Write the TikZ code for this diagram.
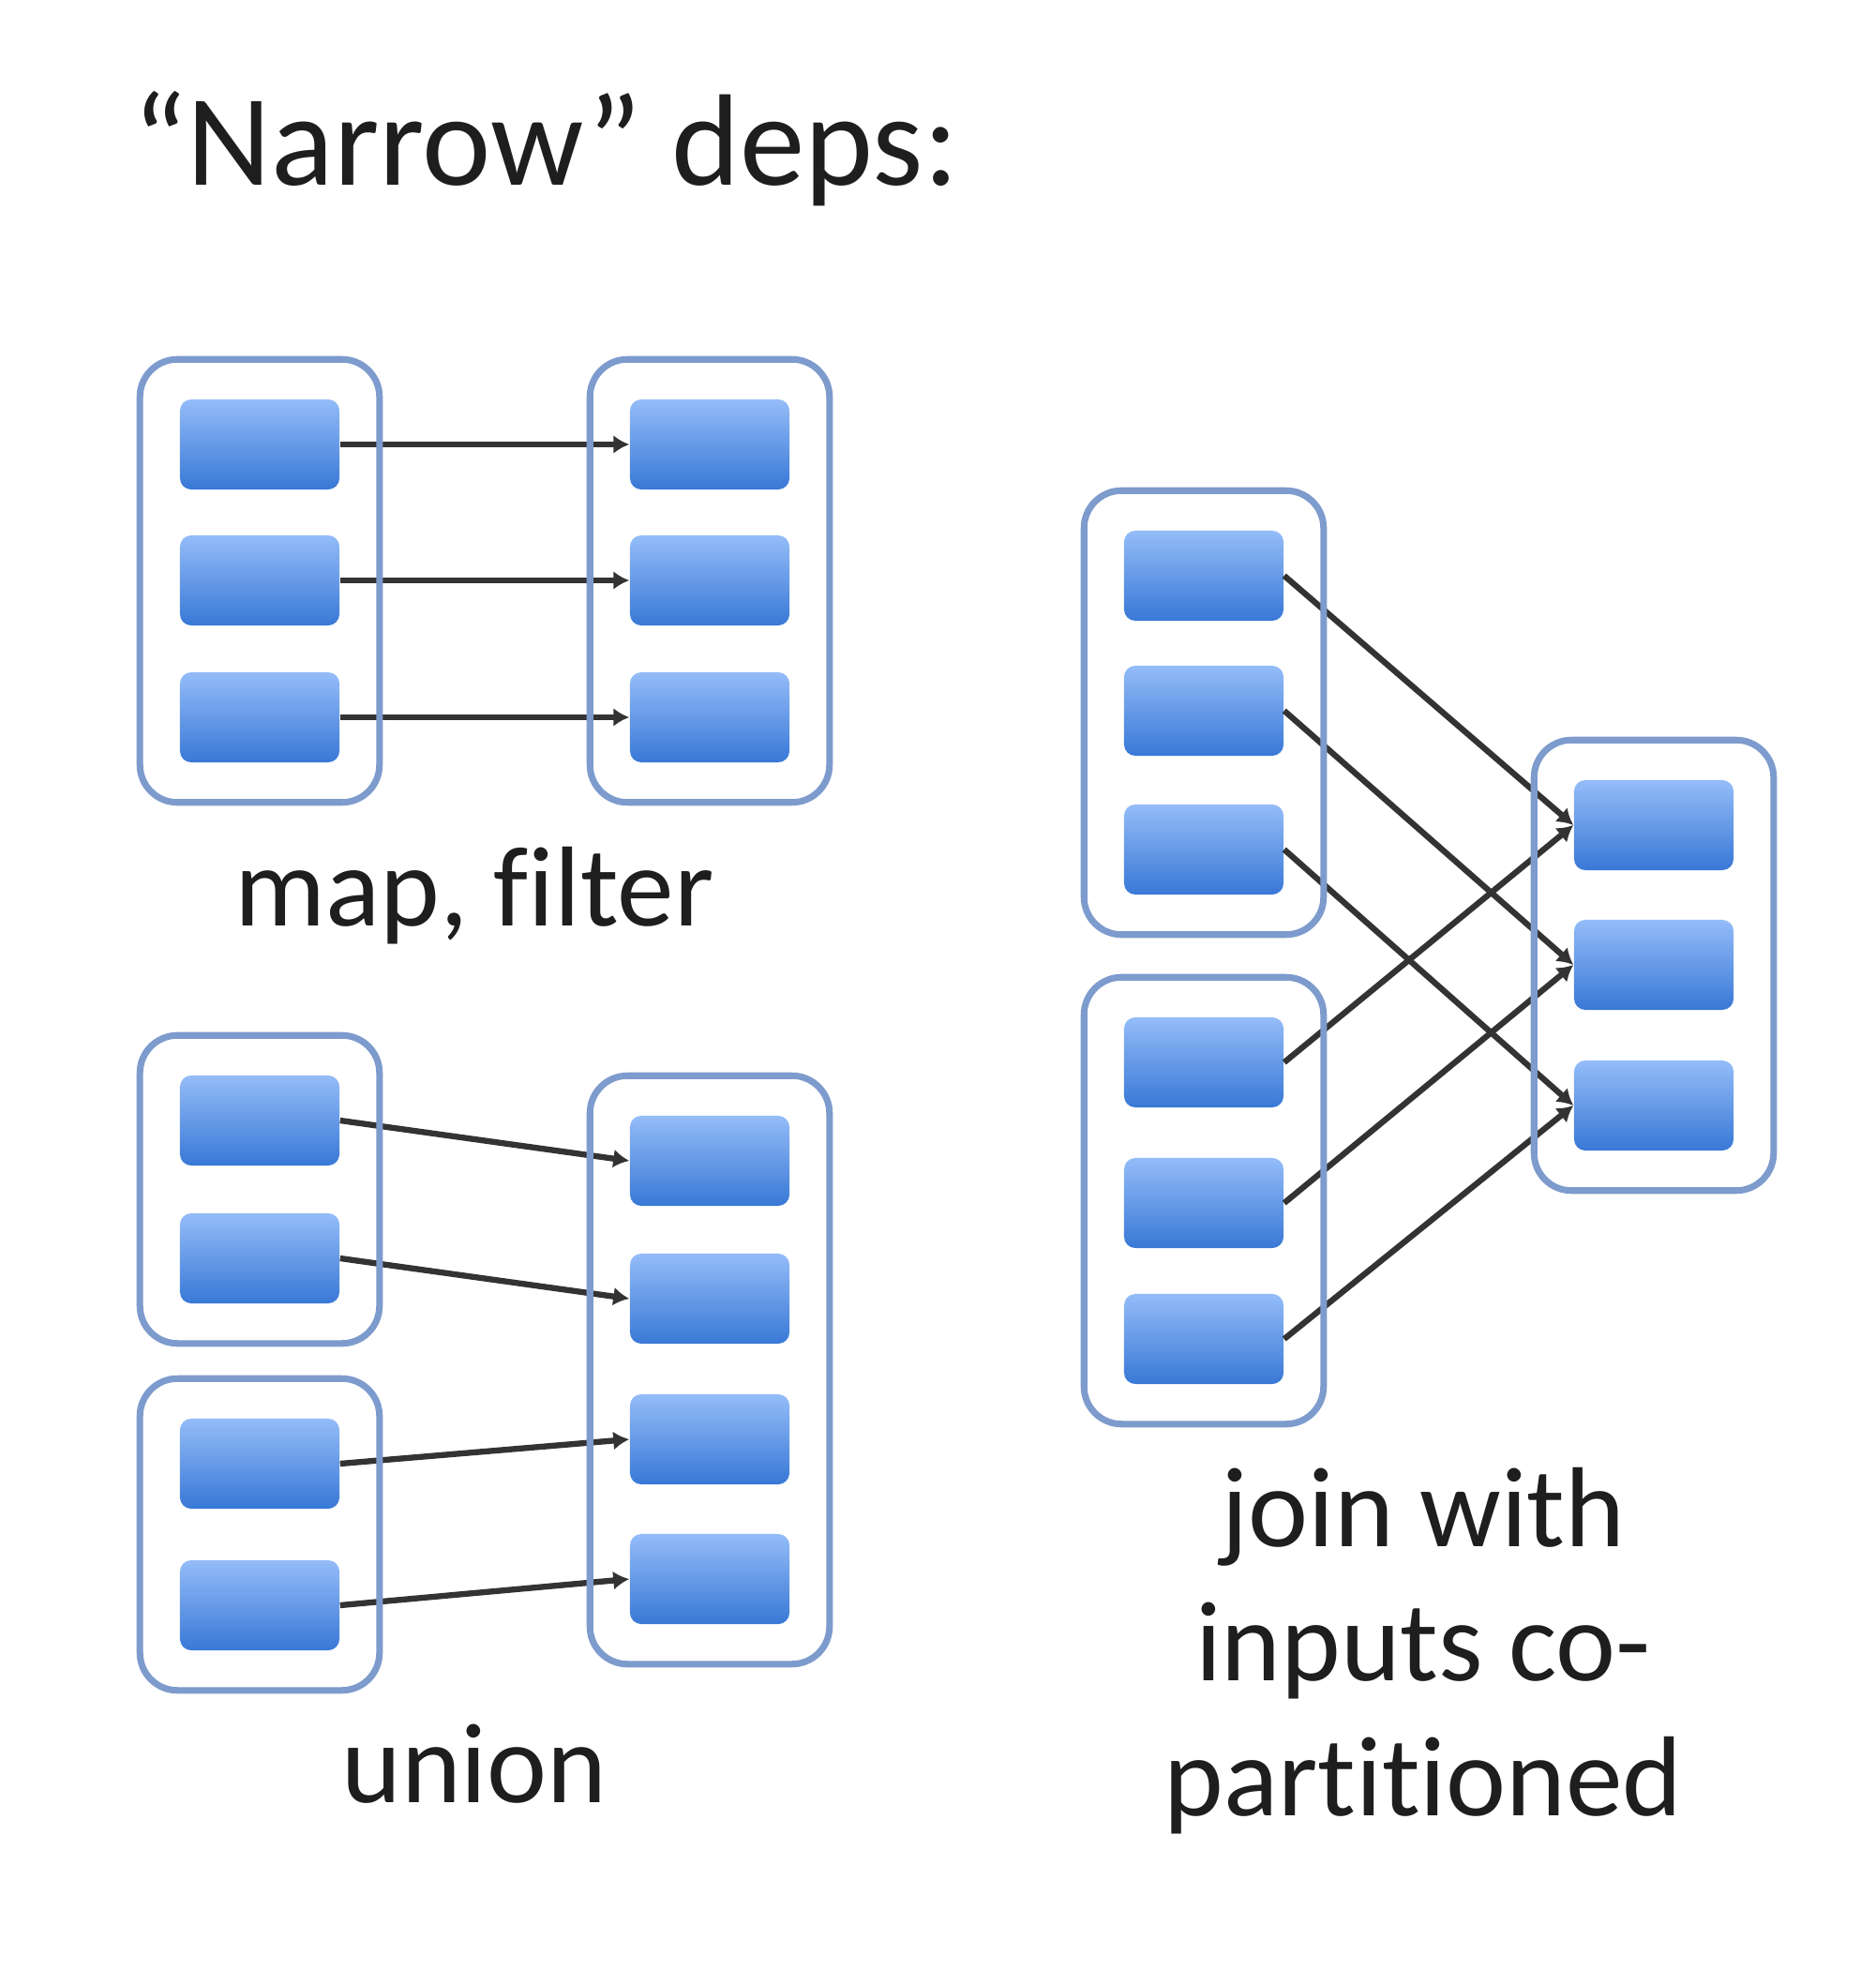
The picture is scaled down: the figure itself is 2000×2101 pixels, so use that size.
\documentclass[tikz,border=0pt]{standalone}
\usepackage{fontspec}
\setmainfont{Carlito}[Ligatures={TeX,NoCommon}]
\usetikzlibrary{positioning,fit,arrows.meta}

\definecolor{rddline}{RGB}{125,155,205}
\definecolor{parttop}{RGB}{148,188,248}
\definecolor{partbot}{RGB}{56,120,214}
\definecolor{txt}{RGB}{30,30,30}

\tikzset{
	part/.style={draw=none, rounded corners=0.12cm, minimum width=1.7cm, minimum height=0.96cm, top color=parttop, bottom color=partbot},
	rdd/.style={draw=rddline, line width=2pt, rounded corners=0.4cm, inner sep=0.42cm},
	dep/.style={-{Latex[length=0.17cm,width=0.2cm]}, line width=1.8pt, black!80},
	lbl/.style={font=\fontsize{34.5}{40.7}\selectfont, text=txt, align=center, inner sep=0pt}
}

\begin{document}
\begin{tikzpicture}[x=0.01cm, y=-0.01cm]
	\useasboundingbox (0,0) rectangle (2000,2101);
	\node [lbl, font=\fontsize{39.5}{46}\selectfont, anchor=base west] (title) at (141,198) {“Narrow” deps:};
	% map, filter
	\foreach \i/\y in {1/474,2/619,3/765} {
		\node [part] (ma\i) at (277,\y) {};
		\node [part] (mb\i) at (757,\y) {};
		\draw [dep] (ma\i.east) -- (mb\i.west);
	}
	\node [rdd, fit=(ma1)(ma3)] (ma) {};
	\node [rdd, fit=(mb1)(mb3)] (mb) {};
	\node [lbl, anchor=base] (maplbl) at (506,987) {map, filter};
	% union
	\foreach \i/\y in {1/1195,2/1342,3/1561,4/1712}
		\node [part] (ua\i) at (277,\y) {};
	\foreach \i/\y in {1/1238,2/1385,3/1535,4/1684}
		\node [part] (ub\i) at (757,\y) {};
	\foreach \i in {1,...,4}
		\draw [dep] (ua\i.east) -- (ub\i.west);
	\node [rdd, fit=(ua1)(ua2)] (uat) {};
	\node [rdd, fit=(ua3)(ua4)] (uab) {};
	\node [rdd, fit=(ub1)(ub4)] (ub) {};
	\node [lbl, anchor=base] (unionlbl) at (506,1922) {union};
	% join
	\foreach \i/\ya/\yb/\yc in {1/614/1133/880,2/758/1283/1029,3/906/1428/1179} {
		\node [part] (ja\i) at (1284,\ya) {};
		\node [part] (jb\i) at (1284,\yb) {};
		\node [part] (jc\i) at (1764,\yc) {};
	}
	\foreach \i in {1,2,3} {
		\draw [dep] (ja\i.east) -- (jc\i.west);
		\draw [dep] (jb\i.east) -- (jc\i.west);
	}
	\node [rdd, fit=(ja1)(ja3)] (ja) {};
	\node [rdd, fit=(jb1)(jb3)] (jb) {};
	\node [rdd, fit=(jc1)(jc3)] (jc) {};
	\node [lbl, anchor=base] (joinlbl) at (1518,1936) {join with\\inputs co-\\partitioned};
\end{tikzpicture}
\end{document}
